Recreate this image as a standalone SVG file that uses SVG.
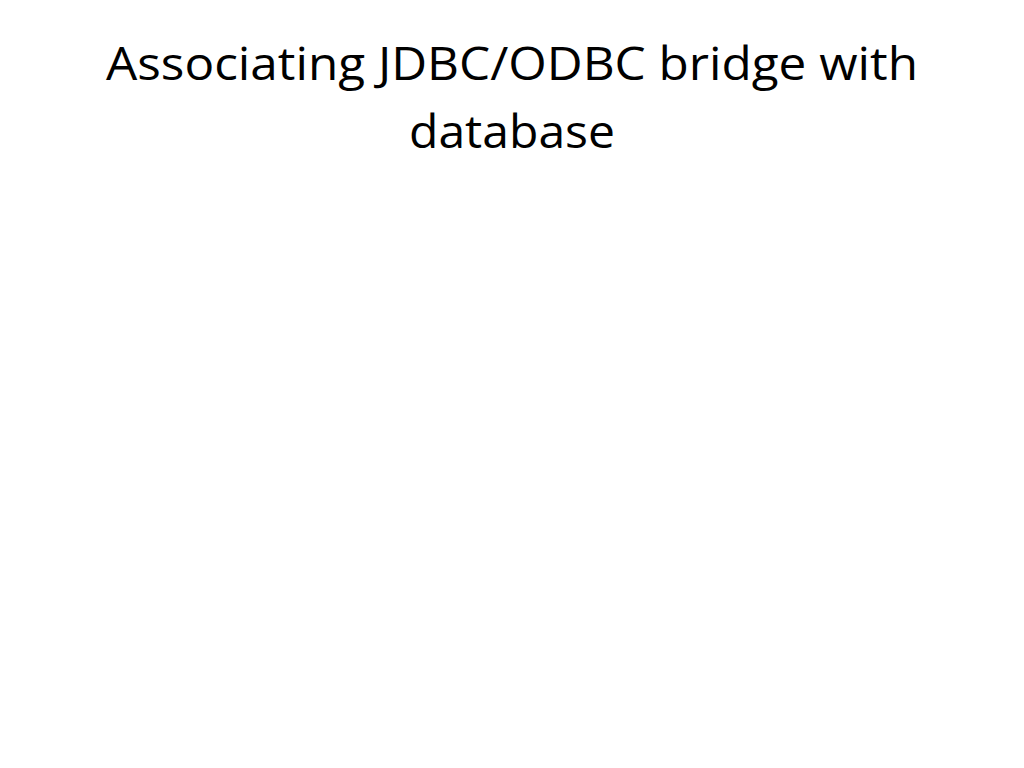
<svg xmlns="http://www.w3.org/2000/svg" width="1024" height="768" viewBox="0 0 1024 768"><style>.t{font-family:"Open Sans","Noto Sans",sans-serif;font-size:46px;fill:#000;text-anchor:middle}</style><rect width="1024" height="768" fill="#fff"/><g id="title"><text class="t" x="512" y="80" textLength="812" lengthAdjust="spacingAndGlyphs">Associating JDBC/ODBC bridge with</text><text class="t" x="512" y="148" textLength="206" lengthAdjust="spacingAndGlyphs">database</text></g></svg>
